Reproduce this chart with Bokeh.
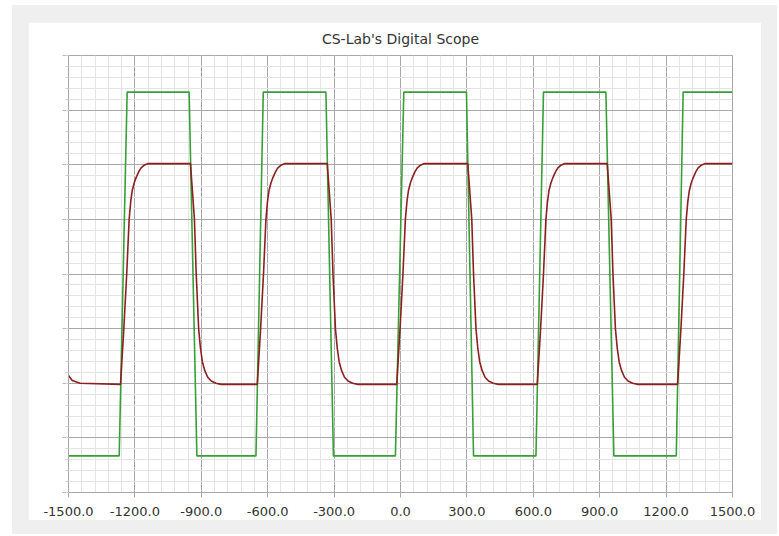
from bokeh.plotting import figure
from bokeh.models import FixedTicker, PrintfTickFormatter, Range1d
from bokeh.layouts import column
from bokeh.embed import file_html
from bokeh.resources import INLINE

title_text = "CS-Lab's Digital Scope"

x_ticks = [-1500.0, -1200.0, -900.0, -600.0, -300.0, 0.0, 300.0, 600.0, 900.0, 1200.0, 1500.0]
y_ticks = [-4, -3, -2, -1, 0, 1, 2, 3, 4]

# Green trace (square wave with finite edges)
green_t = [-1500, -1271, -1235, -955, -920, -653, -620, -337, -303, -23, 15,
           298, 330, 612, 646, 928, 964, 1246, 1277, 1500]
green_v = [-3.33, -3.33, 3.33, 3.33, -3.33, -3.33, 3.33, 3.33, -3.33, -3.33, 3.33,
           3.33, -3.33, -3.33, 3.33, 3.33, -3.33, -3.33, 3.33, 3.33]

# Red trace (filtered response)
red_t = [-1500, -1483, -1447,
         -1265, -1250, -1237, -1226, -1219, -1212, -1203, -1194, -1183, -1173, -1159, -1142,
         -949, -931, -923, -912, -904, -895, -884, -871, -855, -834, -810,
         -647, -632, -619, -608, -601, -594, -585, -576, -565, -555, -541, -524,
         -331, -313, -305, -294, -286, -277, -266, -253, -237, -216, -192,
         -17, -2, 11, 22, 29, 36, 45, 54, 65, 75, 89, 106,
         304, 322, 330, 341, 349, 358, 369, 382, 398, 419, 443,
         618, 633, 646, 657, 664, 671, 680, 689, 700, 710, 724, 741,
         934, 952, 960, 971, 979, 988, 999, 1012, 1028, 1049, 1073,
         1252, 1267, 1280, 1291, 1298, 1305, 1314, 1323, 1334, 1344, 1358, 1375,
         1500]
red_v = [-1.86, -1.95, -2.0,
         -2.02, -1.0, 0.0, 1.0, 1.32, 1.53, 1.67, 1.77, 1.87, 1.94, 1.99, 2.02,
         2.02, 1.0, 0.0, -1.0, -1.35, -1.61, -1.77, -1.89, -1.96, -2.0, -2.02,
         -2.02, -1.0, 0.0, 1.0, 1.32, 1.53, 1.67, 1.77, 1.87, 1.94, 1.99, 2.02,
         2.02, 1.0, 0.0, -1.0, -1.35, -1.61, -1.77, -1.89, -1.96, -2.0, -2.02,
         -2.02, -1.0, 0.0, 1.0, 1.32, 1.53, 1.67, 1.77, 1.87, 1.94, 1.99, 2.02,
         2.02, 1.0, 0.0, -1.0, -1.35, -1.61, -1.77, -1.89, -1.96, -2.0, -2.02,
         -2.02, -1.0, 0.0, 1.0, 1.32, 1.53, 1.67, 1.77, 1.87, 1.94, 1.99, 2.02,
         2.02, 1.0, 0.0, -1.0, -1.35, -1.61, -1.77, -1.89, -1.96, -2.0, -2.02,
         -2.02, -1.0, 0.0, 1.0, 1.32, 1.53, 1.67, 1.77, 1.87, 1.94, 1.99, 2.02,
         2.02]

x_minor = [-1500 + 60 * i for i in range(51)]
y_minor = [-4 + 0.2 * i for i in range(41)]

p = figure(width=733, height=498,
           x_range=Range1d(-1500, 1500), y_range=Range1d(-4, 4),
           output_backend="svg", toolbar_location=None,
           title=title_text,
           min_border_left=40, min_border_right=29,
           min_border_top=33, min_border_bottom=28,
           border_fill_color="white", background_fill_color="white",
           outline_line_color="#a8a8a8")
p.styles = {"border-radius": "6px"}

p.title.align = "center"
p.title.vertical_align = "top"
p.title.text_font = "DejaVu Sans"
p.title.text_font_size = "14px"
p.title.text_font_style = "normal"
p.title.text_color = "#333333"
p.title.standoff = 14

xa = p.xaxis[0]
xa.ticker = FixedTicker(ticks=x_ticks, minor_ticks=x_minor)
xa.formatter = PrintfTickFormatter(format="%.1f")
xa.major_label_text_font = "DejaVu Sans"
xa.major_label_text_font_size = "13px"
xa.major_label_text_color = "#333333"
xa.axis_line_color = "#a8a8a8"
xa.major_tick_line_color = "#a8a8a8"
xa.major_tick_out = 5
xa.major_tick_in = 0
xa.minor_tick_line_color = None
xa.major_label_standoff = 9

ya = p.yaxis[0]
ya.ticker = FixedTicker(ticks=y_ticks, minor_ticks=y_minor)
ya.major_label_overrides = {v: "" for v in y_ticks}
ya.axis_line_color = "#a8a8a8"
ya.major_tick_line_color = "#b8b8b8"
ya.major_tick_out = 6
ya.major_tick_in = 0
ya.minor_tick_line_color = "#d0d0d0"
ya.minor_tick_out = 3
ya.minor_tick_in = 0

for g in (p.xgrid[0], p.ygrid[0]):
    g.grid_line_color = "#a8a8a8"
    g.grid_line_width = 1
    g.minor_grid_line_color = "#e4e4e4"
    g.minor_grid_line_width = 1

p.line(green_t, green_v, line_color="#36a036", line_width=1.6)
p.line(red_t, red_v, line_color="#8c1f1f", line_width=1.6)

layout = column(p, styles={"background-color": "#efefef",
                           "margin": "5px 0px 0px 12px",
                           "padding": "17px 16px 14px 16px"})

open("out.html", "w").write(file_html(layout, INLINE))
